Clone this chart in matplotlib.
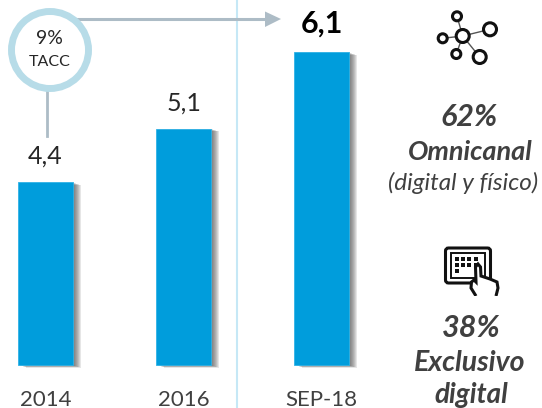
import matplotlib
matplotlib.use("Agg")
import matplotlib.pyplot as plt
from matplotlib.patches import Circle, FancyBboxPatch, Rectangle, Polygon

plt.rcParams['font.family'] = ['Lato', 'DejaVu Sans']

# Datos
categorias = ['2014', '2016', 'SEP-18']
valores = [4.4, 5.1, 6.1]
etiquetas = ['4,4', '5,1', '6,1']
base = 2.01

azul = '#009ddc'
gris = '#adbcc6'
aro = '#b7dce8'
texto = '#262626'
texto_gris = '#404040'

W, H = 542, 408
fig = plt.figure(figsize=(W / 100, H / 100), dpi=100)

# Eje de las barras
ax = fig.add_axes([0, 0, 1, 1])
ax.set_xlim(-45.5 / 138, (W - 45.5) / 138)
ax.set_ylim(base - 43 / 76.5, base + 365 / 76.5)
ax.axis('off')

x = list(range(len(valores)))
alturas = [v - base for v in valores]

# Sombra de las barras
for i in range(8):
    dx = (8 - i) * 1.0
    dy = (8 - i) * 0.35
    ax.bar([p + dx / 138 for p in x], alturas, width=0.4, bottom=base - dy / 76.5,
           color='#444444', alpha=0.13, linewidth=0, zorder=1)
ax.bar(x, alturas, width=0.4, bottom=base, color=azul, edgecolor='#2fb2e6', linewidth=0.6, zorder=2)

for i, v in enumerate(valores):
    bold = i == 2
    ax.text(i, v + 0.19, etiquetas[i], ha='center', va='bottom', color='black' if bold else texto,
            fontsize=22 if bold else 18, fontweight='bold' if bold else 'normal', zorder=5)
    ax.text(i, base - 43 / 76.5 - 0.02, categorias[i], ha='center', va='bottom', color=texto_gris,
            fontsize=16, zorder=5)

# Capa en pixeles para anotaciones e iconos
ov = fig.add_axes([0, 0, 1, 1], facecolor='none')
ov.set_xlim(0, W)
ov.set_ylim(H, 0)
ov.axis('off')

ov.plot([237, 237], [0, H], color='#c6e8f6', lw=1.5, zorder=1)
ov.plot([47, 47], [88, 136], color=gris, lw=2, zorder=2)
ov.plot([70, 266], [19, 19], color=gris, lw=2.2, zorder=2)
ov.add_patch(Polygon([[265, 11.5], [281, 19], [265, 27]], closed=True, color=gris, lw=0, zorder=2))
ov.add_patch(Circle((50, 50), 38.5, facecolor='white', edgecolor=aro, lw=5, zorder=3))
ov.text(49.5, 39, '9%', ha='center', va='center', fontsize=14, color=texto, zorder=4)
ov.text(49.5, 62, 'TACC', ha='center', va='center', fontsize=11.5, color=texto, zorder=4)

# Icono de red
centro = (462.7, 36)
nodos = [(457, 16.3, 4.5), (490, 29.3, 6.5), (442.7, 38.3, 4.5), (456.3, 54, 4.5), (479.7, 57, 6.5)]
for nx, ny, r in nodos:
    ov.plot([centro[0], nx], [centro[1], ny], color='#555555', lw=1, zorder=3)
    ov.add_patch(Circle((nx, ny), r, facecolor='white', edgecolor='#111111', lw=2.2, zorder=4))
ov.add_patch(Circle(centro, 6.5, facecolor='white', edgecolor='#111111', lw=2.2, zorder=4))

# Icono de tableta
ov.add_patch(FancyBboxPatch((445.5, 248), 45, 35, boxstyle='round,pad=0,rounding_size=3',
                            facecolor='white', edgecolor='#111111', lw=2.2, zorder=3))
ov.add_patch(Rectangle((451, 253), 34, 25, facecolor='white', edgecolor='#111111', lw=1.4, zorder=3))
for px, py in [(457, 259), (463, 259), (469, 259), (476, 259), (457, 265), (463, 265), (469, 265), (476, 265), (457, 271)]:
    ov.add_patch(Rectangle((px - 1.6, py - 1.6), 3.2, 3.2, facecolor='#111111', lw=0, zorder=4))
mano = [[476, 296], [471, 288], [471.5, 282], [474, 280], [476, 282], [475.5, 267], [478, 264],
        [480.5, 267], [481, 276], [490, 279], [497, 282], [498, 288], [496, 296]]
ov.add_patch(Polygon(mano, closed=False, facecolor='white', edgecolor='#111111', lw=2.2, zorder=5))
ov.add_patch(Rectangle((470, 295.5), 32, 4, facecolor='white', lw=0, zorder=6))

# Textos de la derecha
col = '#404040'
ov.text(469, 117, '62%', ha='center', va='center', fontsize=22, fontweight='bold', style='italic', color=col)
ov.text(470, 152, 'Omnicanal', ha='center', va='center', fontsize=19.5, fontweight='bold', style='italic', color=col)
ov.text(463, 183, '(digital y físico)', ha='center', va='center', fontsize=17.5, style='italic', color=col)
ov.text(471, 328, '38%', ha='center', va='center', fontsize=22, fontweight='bold', style='italic', color=col)
ov.text(470, 363, 'Exclusivo', ha='center', va='center', fontsize=20.5, fontweight='bold', style='italic', color=col)
ov.text(471, 395, 'digital', ha='center', va='center', fontsize=20, fontweight='bold', style='italic', color=col)

fig.savefig('out.png', dpi=100)
